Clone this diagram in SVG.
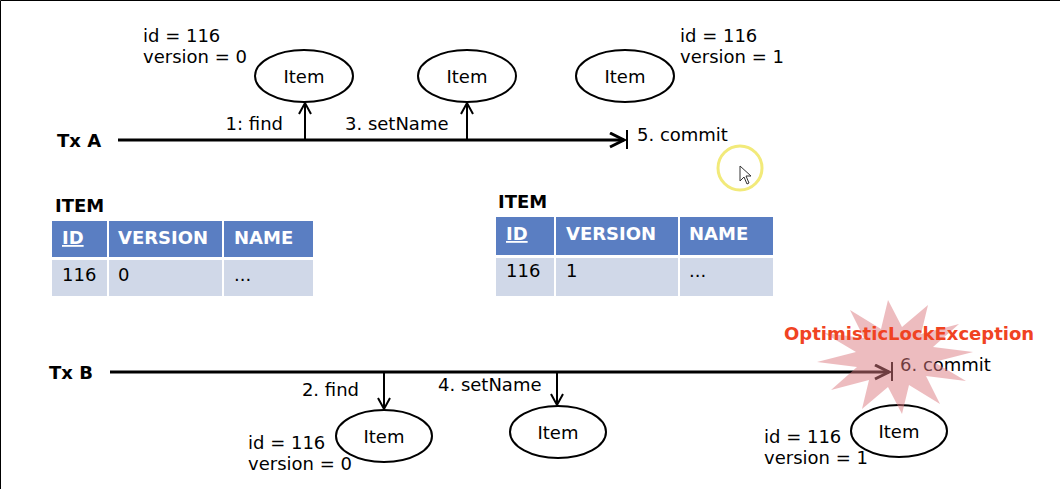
<svg xmlns="http://www.w3.org/2000/svg" width="1063" height="489" viewBox="0 0 1063 489">
<style>
text{font-family:"DejaVu Sans","Verdana",sans-serif;font-size:18px;fill:#000}
.b{font-weight:bold}
.h{font-weight:bold;fill:#fff}
.node ellipse{fill:#fff;stroke:#000;stroke-width:2}
.tx{stroke:#000;stroke-width:3;fill:none}
.ar{stroke:#000;stroke-width:2;fill:none}
.hd{fill:#5A7EC2}
.rw{fill:#D0D8E8}
</style>
<defs>
<marker id="big" markerUnits="userSpaceOnUse" markerWidth="20" markerHeight="20" refX="15" refY="8" orient="auto">
<path d="M1,1 L15,8 L1,15" fill="none" stroke="#000" stroke-width="3"/>
</marker>
<marker id="sm" markerUnits="userSpaceOnUse" markerWidth="16" markerHeight="16" refX="12" refY="7" orient="auto">
<path d="M1,1 L12,7 L1,13" fill="none" stroke="#000" stroke-width="2"/>
</marker>
</defs>
<rect width="1063" height="489" fill="#fff"/>
<path d="M0.5,489 V0.5 H1060" fill="none" stroke="#000" stroke-width="1"/>

<g id="connectors">
<line class="tx" x1="118" y1="140" x2="624" y2="140" marker-end="url(#big)"/>
<line x1="627" y1="130" x2="627" y2="149" stroke="#000" stroke-width="2"/>
<line class="ar" x1="305" y1="140" x2="305" y2="103" marker-end="url(#sm)"/>
<line class="ar" x1="467" y1="140" x2="467" y2="103" marker-end="url(#sm)"/>
<line class="tx" x1="110" y1="372" x2="889" y2="372" marker-end="url(#big)"/>
<line x1="892" y1="362" x2="892" y2="381" stroke="#000" stroke-width="2"/>
<line class="ar" x1="384" y1="372" x2="384" y2="409" marker-end="url(#sm)"/>
<line class="ar" x1="557" y1="372" x2="557" y2="405" marker-end="url(#sm)"/>
</g>

<g id="txA"><text class="b" x="57" y="147">Tx A</text></g>
<g id="txB"><text class="b" x="49" y="379">Tx B</text></g>

<g id="labels">
<text x="143" y="42">id = 116</text>
<text x="143" y="63">version = 0</text>
<text x="680" y="42">id = 116</text>
<text x="680" y="63">version = 1</text>
<text x="283" y="130" text-anchor="end">1: find</text>
<text x="345" y="130">3. setName</text>
<text x="637" y="141">5. commit</text>
<text x="359" y="396" text-anchor="end">2. find</text>
<text x="438" y="391">4. setName</text>
<text x="900" y="371">6. commit</text>
<text x="248" y="449">id = 116</text>
<text x="248" y="470">version = 0</text>
<text x="764" y="443">id = 116</text>
<text x="764" y="464">version = 1</text>
</g>

<g id="itemA1" class="node"><ellipse cx="304" cy="76" rx="49" ry="26"/><text x="304" y="83" text-anchor="middle">Item</text></g>
<g id="itemA2" class="node"><ellipse cx="467" cy="76" rx="49" ry="26"/><text x="467" y="83" text-anchor="middle">Item</text></g>
<g id="itemA3" class="node"><ellipse cx="625" cy="76" rx="49" ry="26"/><text x="625" y="83" text-anchor="middle">Item</text></g>
<g id="itemB1" class="node"><ellipse cx="384" cy="436" rx="48" ry="26"/><text x="384" y="443" text-anchor="middle">Item</text></g>
<g id="itemB2" class="node"><ellipse cx="558" cy="432" rx="48" ry="26"/><text x="558" y="439" text-anchor="middle">Item</text></g>
<g id="itemB3" class="node"><ellipse cx="899" cy="431" rx="48" ry="26"/><text x="899" y="438" text-anchor="middle">Item</text></g>

<g id="table1">
<text class="b" x="55" y="212">ITEM</text>
<rect class="hd" x="52" y="221" width="55" height="36"/>
<rect class="hd" x="109" y="221" width="113" height="36"/>
<rect class="hd" x="224" y="221" width="89" height="36"/>
<rect class="rw" x="52" y="260" width="55" height="36"/>
<rect class="rw" x="109" y="260" width="113" height="36"/>
<rect class="rw" x="224" y="260" width="89" height="36"/>
<text class="h" x="62" y="244" text-decoration="underline">ID</text>
<text class="h" x="118" y="244">VERSION</text>
<text class="h" x="234" y="244">NAME</text>
<text x="62" y="281">116</text>
<text x="118" y="281">0</text>
<text x="234" y="281">...</text>
</g>

<g id="table2">
<text class="b" x="498" y="208">ITEM</text>
<rect class="hd" x="496" y="217" width="58" height="38"/>
<rect class="hd" x="556" y="217" width="122" height="38"/>
<rect class="hd" x="680" y="217" width="93" height="38"/>
<rect class="rw" x="496" y="258" width="58" height="38"/>
<rect class="rw" x="556" y="258" width="122" height="38"/>
<rect class="rw" x="680" y="258" width="93" height="38"/>
<text class="h" x="506" y="240" text-decoration="underline">ID</text>
<text class="h" x="566" y="240">VERSION</text>
<text class="h" x="689" y="240">NAME</text>
<text x="506" y="277">116</text>
<text x="566" y="277">1</text>
<text x="689" y="277">...</text>
</g>

<g id="exception">
<polygon points="928,305 921,334 959,324 933,347 973,352 934,362 966,381 926,376 940,404 909,385 902,414 888,387 862,409 869,380 831,390 857,367 817,362 856,352 824,333 864,338 850,310 881,329 888,300 902,327" fill="#DC7A80" fill-opacity="0.5"/>
<text class="b" x="784" y="340" style="fill:#F04322">OptimisticLockException</text>
</g>

<g id="cursor">
<circle cx="740" cy="168" r="22" fill="none" stroke="#F2EA7A" stroke-width="3"/>
<path d="M740,166 L740,181 L744,177 L747,184 L749,183 L746,176 L751,176 Z" fill="#fff" stroke="#333" stroke-width="1"/>
</g>
</svg>
